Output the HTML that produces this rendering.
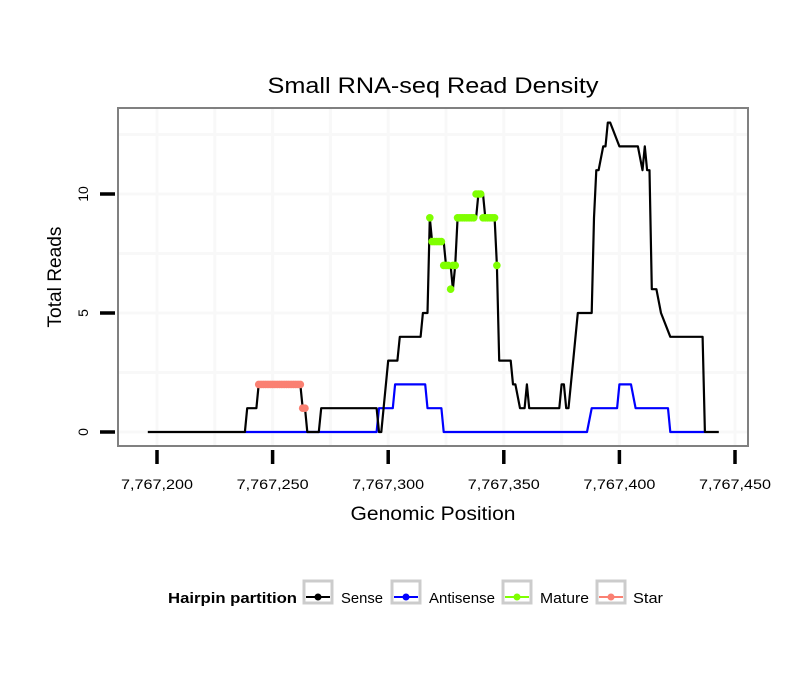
<!DOCTYPE html>
<html><head><meta charset="utf-8">
<style>
body{margin:0;background:#fff;}
svg{display:block;font-family:"Liberation Sans",sans-serif;}
</style></head>
<body>
<svg id="chart" width="810" height="690" viewBox="0 0 810 690">
<rect width="810" height="690" fill="#fff"/>
<text x="433" y="93" text-anchor="middle" font-size="22" textLength="331" lengthAdjust="spacingAndGlyphs">Small RNA-seq Read Density</text>
<g id="grid"></g>
<g id="series"></g>
<rect x="118" y="108" width="630" height="338" fill="none" stroke="#808080" stroke-width="2"/>
<g id="axes"></g>
<text x="433" y="520" text-anchor="middle" font-size="19" textLength="165" lengthAdjust="spacingAndGlyphs">Genomic Position</text>
<text transform="translate(61,277) rotate(-90)" text-anchor="middle" font-size="19" textLength="101" lengthAdjust="spacingAndGlyphs">Total Reads</text>
<g>
<text x="168" y="603" font-size="15" font-weight="bold" textLength="129" lengthAdjust="spacingAndGlyphs">Hairpin partition</text>
<g><rect x="304" y="581" width="28" height="22" fill="#fff" stroke="#cccccc" stroke-width="3"/><line x1="306" y1="597" x2="330" y2="597" stroke="#000" stroke-width="2"/><circle cx="318" cy="597" r="3.5" fill="#000"/><text x="341" y="603" font-size="15" textLength="42" lengthAdjust="spacingAndGlyphs">Sense</text></g>
<g><rect x="392" y="581" width="28" height="22" fill="#fff" stroke="#cccccc" stroke-width="3"/><line x1="394" y1="597" x2="418" y2="597" stroke="#0000ff" stroke-width="2"/><circle cx="406" cy="597" r="3.5" fill="#0000ff"/><text x="429" y="603" font-size="15" textLength="66" lengthAdjust="spacingAndGlyphs">Antisense</text></g>
<g><rect x="503" y="581" width="28" height="22" fill="#fff" stroke="#cccccc" stroke-width="3"/><line x1="505" y1="597" x2="529" y2="597" stroke="#7fff00" stroke-width="2"/><circle cx="517" cy="597" r="3.5" fill="#7fff00"/><text x="540" y="603" font-size="15" textLength="49" lengthAdjust="spacingAndGlyphs">Mature</text></g>
<g><rect x="597" y="581" width="28" height="22" fill="#fff" stroke="#cccccc" stroke-width="3"/><line x1="599" y1="597" x2="623" y2="597" stroke="#fa8072" stroke-width="2"/><circle cx="611" cy="597" r="3.5" fill="#fa8072"/><text x="633" y="603" font-size="15" textLength="30" lengthAdjust="spacingAndGlyphs">Star</text></g>
</g>
</svg>
<script>
const xTicks = [7767200, 7767250, 7767300, 7767350, 7767400, 7767450];
const xTickLabels = ["7,767,200", "7,767,250", "7,767,300", "7,767,350", "7,767,400", "7,767,450"];
const yTicks = [0, 5, 10];
const yTickLabels = ["0", "5", "10"];
const sensePos = [7767196,7767238,7767239,7767243,7767244,7767262,7767263,7767264,7767265,7767270,7767271,7767295,7767296,7767297,7767298,7767300,7767304,7767305,7767314,7767315,7767316,7767317,7767318,7767319,7767324,7767325,7767327,7767328,7767329,7767330,7767338,7767339,7767341,7767342,7767346,7767347,7767348,7767353,7767354,7767355,7767357,7767359,7767360,7767361,7767374,7767375,7767376,7767377,7767378,7767380,7767382,7767384,7767388,7767389,7767390,7767391,7767393,7767394,7767395,7767396,7767400,7767401,7767408,7767410,7767411,7767412,7767413,7767414,7767416,7767418,7767422,7767423,7767424,7767436,7767437,7767443];
const senseVal = [0,0,1,1,2,2,1,1,0,0,1,1,0,0,1,3,3,4,4,5,5,5,9,8,8,7,7,6,7,9,9,10,10,9,9,7,3,3,2,2,1,1,2,1,1,2,2,1,1,3,5,5,5,9,11,11,12,12,13,13,12,12,12,11,12,11,11,6,6,5,4,4,4,4,0,0];
const antiPos = [7767238,7767295,7767296,7767302,7767303,7767316,7767317,7767323,7767324,7767386,7767388,7767399,7767400,7767405,7767407,7767421,7767422,7767437];
const antiVal = [0,0,1,1,2,2,1,1,0,0,1,1,2,2,1,1,0,0];
const maturePos = [7767318,7767319,7767320,7767321,7767322,7767323,7767324,7767325,7767326,7767327,7767328,7767329,7767330,7767331,7767332,7767333,7767334,7767335,7767336,7767337,7767338,7767339,7767340,7767341,7767342,7767343,7767344,7767345,7767346,7767347];
const matureVal = [9,8,8,8,8,8,7,7,7,6,7,7,9,9,9,9,9,9,9,9,10,10,10,9,9,9,9,9,9,7];
const starPos = [7767244,7767245,7767246,7767247,7767248,7767249,7767250,7767251,7767252,7767253,7767254,7767255,7767256,7767257,7767258,7767259,7767260,7767261,7767262,7767263,7767264];
const starVal = [2,2,2,2,2,2,2,2,2,2,2,2,2,2,2,2,2,2,2,1,1];

const NS = "http://www.w3.org/2000/svg";
const X = p => 157 + (p - 7767200) * 2.312;
const Y = v => 432 - v * 23.8;
function mk(tag, attrs, parent){const e=document.createElementNS(NS,tag);for(const k in attrs)e.setAttribute(k,attrs[k]);parent.appendChild(e);return e;}
const grid=document.getElementById('grid'), axes=document.getElementById('axes'), series=document.getElementById('series');
for(let i=0;i<xTicks.length;i++){
  [xTicks[i], xTicks[i]+25].forEach(t=>{const x=X(t); if(x>118&&x<748){const l=mk('line',{x1:x,x2:x,y1:108,y2:446,stroke:'#f8f8f8','stroke-width':3},grid);
  
  }});
  const x=X(xTicks[i]);
  const tk=mk('line',{x1:x,x2:x,y1:450,y2:464,stroke:'#000','stroke-width':3.5},axes);
  
  
  const tl=mk('text',{x:x,y:489,'text-anchor':'middle','font-size':14,textLength:72,lengthAdjust:'spacingAndGlyphs'},axes); tl.textContent=xTickLabels[i];
  
  
}
for(let i=0;i<yTicks.length;i++){
  [yTicks[i], yTicks[i]+2.5].forEach(t=>{const y=Y(t); if(y>108&&y<446){const l=mk('line',{x1:118,x2:748,y1:y,y2:y,stroke:'#f8f8f8','stroke-width':3},grid);
  
  }});
  const y=Y(yTicks[i]);
  const tk=mk('line',{x1:100,x2:115,y1:y,y2:y,stroke:'#000','stroke-width':3.5},axes);
  
  
  const tl=mk('text',{transform:`translate(88,${y}) rotate(-90)`,'text-anchor':'middle','font-size':14},axes); tl.textContent=yTickLabels[i];
  
  
}
function line(pos,val,color,name){
  const d=pos.map((p,i)=>(i?'L':'M')+X(p).toFixed(1)+','+Y(val[i]).toFixed(1)).join('');
  const e=mk('path',{d:d,fill:'none',stroke:color,'stroke-width':2.2,'stroke-linejoin':'round'},series);
  
  
}
function pts(pos,val,color,name){
  pos.forEach((p,i)=>{const c=mk('circle',{cx:X(p),cy:Y(val[i]),r:3.8,fill:color},series);
  
  });
}
line(antiPos,antiVal,'#0000ff','antisense-line');
line(sensePos,senseVal,'#000000','sense-line');
pts(starPos,starVal,'#fa8072','star-point');
pts(maturePos,matureVal,'#7fff00','mature-point');
</script>
</body></html>
